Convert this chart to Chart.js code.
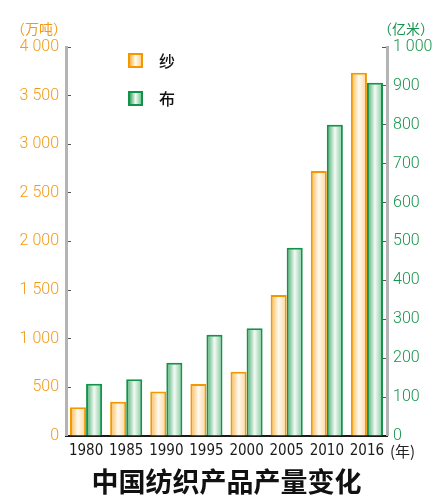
<!DOCTYPE html>
<html>
<head>
<meta charset="utf-8">
<script src="https://cdn.jsdelivr.net/npm/chart.js@4/dist/chart.umd.min.js"></script>
<style>
  html, body { margin: 0; padding: 0; background: #fff; }
  #wrap { position: relative; width: 440px; height: 499px; }
  #chart { display: block; }
  .unit { position: absolute; font: 14px "Noto Sans CJK SC", sans-serif; line-height: 1; }
  .legend { position: absolute; left: 128px; top: 50px; font: 500 16px "Noto Sans CJK SC", sans-serif; color: #111; }
  .legend div { display: flex; align-items: center; height: 20px; margin-bottom: 18px; }
  .legend i { display: inline-block; width: 11px; height: 11px; border: 2px solid; margin-right: 16px; }
</style>
</head>
<body>
<div id="wrap">
  <canvas id="chart" width="440" height="499"></canvas>
  <div class="unit" style="left:11px;top:21px;color:#f29a18">（万吨）</div>
  <div class="unit" style="left:378px;top:21px;color:#16944c">（亿米）</div>
  <div class="unit" style="left:390px;top:443px;color:#222;font-size:15px">(年)</div>
  <div class="legend" id="legend"></div>
</div>
<script>
const years  = ['1980', '1985', '1990', '1995', '2000', '2005', '2010', '2016'];
const yarn   = [295, 353, 456, 535, 661, 1450, 2725, 3735];   // 纱, 万吨
const cloth  = [134, 146, 188, 260, 277, 484, 800, 908];      // 布, 亿米

const ORANGE = '#f39800';
const GREEN  = '#13934a';
const orangeStops = ['#f8b64a', '#fffaf0', '#fbd596'];
const greenStops  = ['#3ea866', '#f3faf5', '#7cc797'];

const CAT_PCT = 0.8;

// horizontal gradient across each bar, from the x scale's own positions
function barFill(stops) {
  return c => {
    const chart = c.chart;
    const x = chart.scales && chart.scales.x;
    if (!x || c.type !== 'data' || !x.width) return stops[1];
    const slot = x.width / years.length * CAT_PCT / 2;
    const cx = x.getPixelForValue(c.dataIndex) + (c.datasetIndex === 0 ? -slot / 2 : slot / 2);
    if (!isFinite(cx) || !isFinite(slot)) return stops[1];
    const g = chart.ctx.createLinearGradient(cx - slot / 2, 0, cx + slot / 2, 0);
    g.addColorStop(0, stops[0]);
    g.addColorStop(0.5, stops[1]);
    g.addColorStop(1, stops[2]);
    return g;
  };
}

const spaced = v => v >= 1000 ? Math.floor(v / 1000) + ' ' + String(v % 1000).padStart(3, '0') : String(v);

const tickFont = { family: 'Roboto', size: 16, weight: '300' };

const chart = new Chart(document.getElementById('chart'), {
  type: 'bar',
  data: {
    labels: years,
    datasets: [
      {
        label: '纱', data: yarn, yAxisID: 'yL',
        borderColor: ORANGE, borderWidth: 2, borderSkipped: 'bottom',
        backgroundColor: barFill(orangeStops),
        categoryPercentage: CAT_PCT, barPercentage: 1,
      },
      {
        label: '布', data: cloth, yAxisID: 'yR',
        borderColor: GREEN, borderWidth: 2, borderSkipped: 'bottom',
        backgroundColor: barFill(greenStops),
        categoryPercentage: CAT_PCT, barPercentage: 1,
      },
    ],
  },
  options: {
    responsive: false,
    animation: false,
    layout: { padding: { top: 47, left: 0, right: 0, bottom: 0 } },
    plugins: {
      legend: { display: false },
      tooltip: { enabled: false },
      title: {
        display: true, position: 'bottom', fullSize: false,
        text: '中国纺织产品产量变化', color: '#111',
        font: { family: 'Noto Sans CJK SC', size: 27, weight: 'bold', lineHeight: 1.15 },
        padding: { top: 0, bottom: 2 },
      },
    },
    scales: {
      x: {
        grid: { display: false, drawTicks: false },
        border: { display: true, color: '#1a1a1a', width: 2 },
        ticks: { color: '#1a1a1a', padding: 6, font: { family: 'DejaVu Sans Condensed', size: 15 }, maxRotation: 0, autoSkip: false },
        afterFit: s => { s.height = 30; },
      },
      yL: {
        position: 'left', min: 0, max: 4000,
        grid: { drawOnChartArea: false, tickLength: -5, color: '#555' },
        border: { color: '#b4b4b4', width: 3 },
        ticks: { stepSize: 500, color: '#f29a18', padding: 12, font: tickFont, callback: spaced },
        afterFit: s => { s.width = 66; },
      },
      yR: {
        position: 'right', min: 0, max: 1000,
        grid: { drawOnChartArea: false, tickLength: -5, color: '#555' },
        border: { color: '#b4b4b4', width: 3 },
        ticks: { stepSize: 100, color: '#16944c', padding: 11, font: tickFont, callback: spaced },
        afterFit: s => { s.width = 53; },
      },
    },
  },
});

// legend from the datasets
const legendEl = document.getElementById('legend');
chart.data.datasets.forEach((ds, i) => {
  const stops = i === 0 ? orangeStops : greenStops;
  legendEl.insertAdjacentHTML('beforeend',
    `<div><i style="border-color:${ds.borderColor};background:linear-gradient(90deg,${stops[0]},${stops[1]},${stops[2]})"></i>${ds.label}</div>`);
});
</script>
</body>
</html>
